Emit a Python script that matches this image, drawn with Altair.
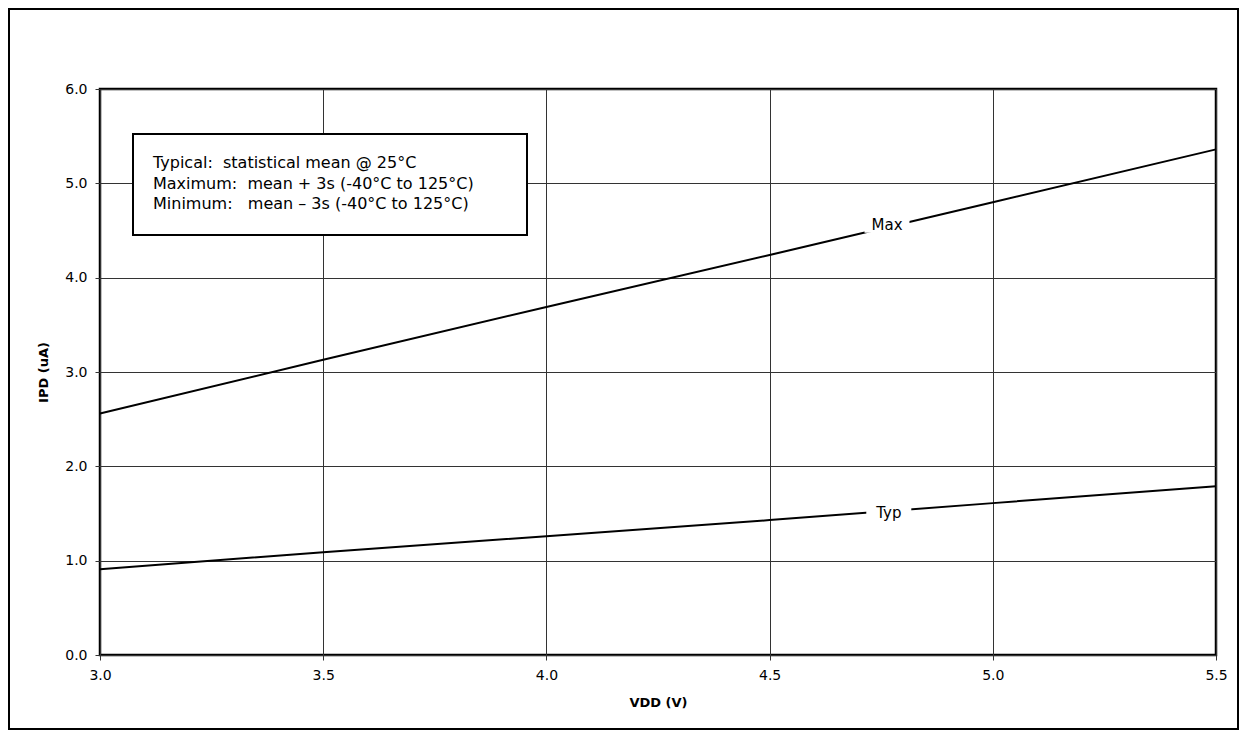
import altair as alt
import pandas as pd

vdd = [3.0, 3.5, 4.0, 4.5, 5.0, 5.5]
ipd_max = [2.56, 3.13, 3.69, 4.24, 4.80, 5.36]
ipd_typ = [0.91, 1.09, 1.26, 1.43, 1.61, 1.79]

label_names = ["Max", "Typ"]
label_x = [4.763, 4.767]
label_y = [4.56, 1.505]

NB = "\u00a0"
note_lines = [
    "Typical:" + NB + " statistical mean @ 25°C",
    "Maximum:" + NB + " mean + 3s (-40°C to 125°C)",
    "Minimum:" + NB + NB + " mean \u2013 3s (-40°C to 125°C)",
]
note_y = [74, 95, 115]

FONT = "DejaVu Sans"
W, H = 1116, 566

rows = []
for x, m, t in zip(vdd, ipd_max, ipd_typ):
    rows.append({"vdd": x, "ipd": m, "series": "Max"})
    rows.append({"vdd": x, "ipd": t, "series": "Typ"})
df = pd.DataFrame(rows)
lab = pd.DataFrame({"name": label_names, "x": label_x, "y": label_y})

xs = alt.Scale(domain=[3.0, 5.5], nice=False, zero=False)
ys = alt.Scale(domain=[0, 6], nice=False)

common = dict(grid=True, gridColor="#333", gridWidth=1, gridOpacity=1,
              tickSize=5, tickColor="#333", domain=False,
              labelFlush=False, labelOverlap=False,
              labelFont=FONT, labelFontSize=14, labelColor="#000", labelPadding=8,
              titleFont=FONT, titleFontSize=13, titleFontWeight="bold",
              titleColor="#000", titlePadding=14)
xaxis = alt.Axis(values=vdd, format=".1f", title="VDD (V)", **common)
yaxis = alt.Axis(values=[0, 1, 2, 3, 4, 5, 6], format=".1f", title="IPD (uA)", **common)

lines = alt.Chart(df).mark_line(color="black", strokeWidth=2).encode(
    x=alt.X("vdd:Q", scale=xs, axis=xaxis),
    y=alt.Y("ipd:Q", scale=ys, axis=yaxis),
    detail="series:N",
)

bg = alt.Chart(lab).mark_rect(fill="white", width=45, height=16).encode(
    x=alt.X("x:Q", scale=xs), y=alt.Y("y:Q", scale=ys),
)

txt = alt.Chart(lab).mark_text(font=FONT, fontSize=15, color="black", baseline="middle").encode(
    x=alt.X("x:Q", scale=xs), y=alt.Y("y:Q", scale=ys), text="name:N",
)

one = pd.DataFrame({"a": [0]})
note_box = alt.Chart(one).mark_rect(
    fill="white", stroke="black", strokeWidth=2
).encode(x=alt.value(33), x2=alt.value(427), y=alt.value(45), y2=alt.value(146))

note_layers = []
for t, yy in zip(note_lines, note_y):
    note_layers.append(
        alt.Chart(one).mark_text(
            font=FONT, fontSize=16, color="black", align="left", baseline="middle", text=t
        ).encode(x=alt.value(53), y=alt.value(yy))
    )

outer = alt.Chart(one).mark_rect(
    fill="transparent", stroke="black", strokeWidth=2
).encode(x=alt.value(-91), x2=alt.value(1138), y=alt.value(-80), y2=alt.value(640))

chart = alt.layer(lines, bg, txt, note_box, *note_layers, outer).properties(
    width=W, height=H,
    autosize=alt.AutoSizeParams(type="none"),
    padding={"left": 92, "top": 81, "right": 24, "bottom": 77},
    background="white",
).configure_view(stroke="black", strokeWidth=2.5)

chart.save("out.html", embed_options={"renderer": "svg", "actions": False})
